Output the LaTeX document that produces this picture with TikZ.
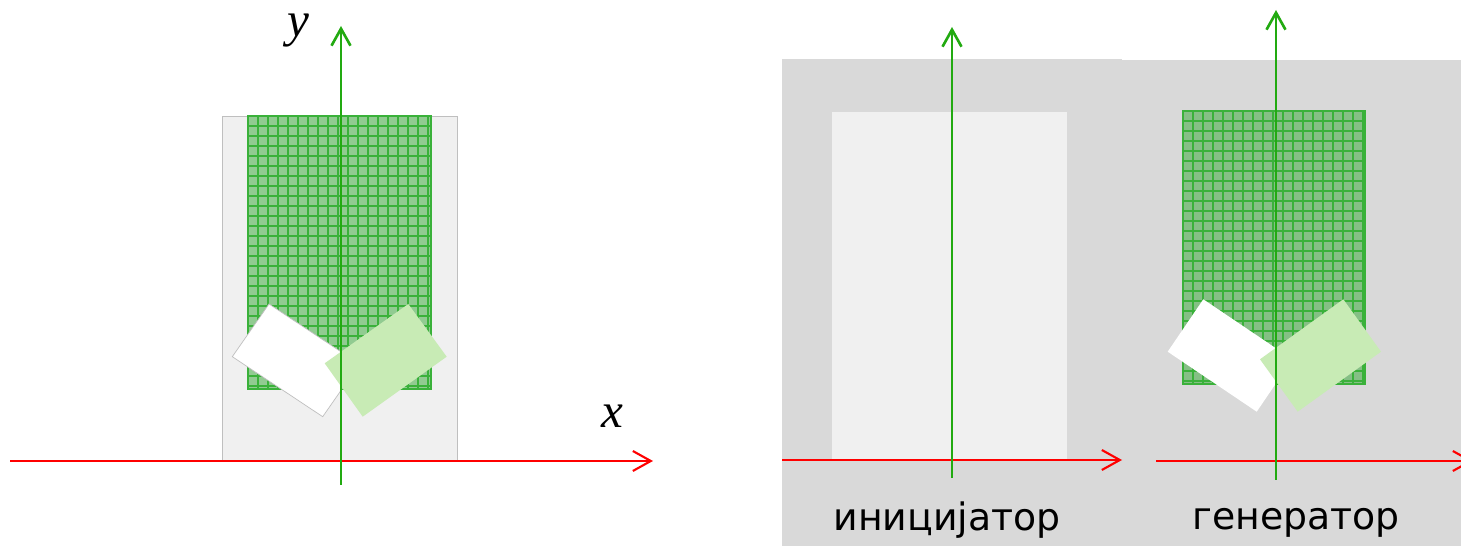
\documentclass[tikz,border=0pt]{standalone}
\usepackage{fontspec}
\setmainfont{Liberation Serif}
\newfontfamily\cyrfont{DejaVu Sans}
\usetikzlibrary{arrows.meta}
\definecolor{AxisRed}{HTML}{FF0000}
\definecolor{AxisGreen}{HTML}{22AA11}
\definecolor{PanelGray}{HTML}{D9D9D9}
\definecolor{SoftGray}{HTML}{F0F0F0}
\definecolor{EdgeGray}{HTML}{BFBFBF}
\definecolor{GridGreen}{HTML}{1FA01F}
\definecolor{GridLine}{HTML}{3AB13A}
\definecolor{LeafGreen}{HTML}{C8EBB5}

\begin{document}
\begin{tikzpicture}[x=0.02cm,y=-0.02cm,
    xaxis/.style={-{Straight Barb[length=0.36cm,width=0.4cm]},draw=AxisRed,line width=1.2pt},
    yaxis/.style={-{Straight Barb[length=0.34cm,width=0.38cm]},draw=AxisGreen,line width=1.5pt},
    gridbox/.style={fill=GridGreen,fill opacity=0.45,draw=GridLine,line width=0.8pt},
    gridline/.style={draw=GridLine,line width=0.6pt},
    leaf/.style={fill=LeafGreen},
    axislabel/.style={font=\fontsize{28}{30}\selectfont\itshape,anchor=base,inner sep=0pt},
    caption/.style={font=\cyrfont\fontsize{21.5}{25}\selectfont,anchor=base,inner sep=0pt}
]
\useasboundingbox (0,0) rectangle (1461,546);
\fill[PanelGray] (782,59) rectangle (1122,546);
\fill[PanelGray] (1122,60) rectangle (1461,546);

\draw[fill=SoftGray,draw=EdgeGray,line width=0.5pt] (222,116) rectangle (457,461);
\draw[gridbox] (248,116) rectangle (431,389);
\foreach \gx in {258,268,...,428} \draw[gridline] (\gx,116) -- (\gx,389);
\foreach \gy in {126,136,...,386} \draw[gridline] (248,\gy) -- (431,\gy);
\draw[fill=white,draw=EdgeGray,line width=0.4pt] (269,304) -- (359.4,364) -- (322.7,416.7) -- (232.3,356.7) -- cycle;
\fill[leaf] (408.3,304) -- (446.7,356.7) -- (362.7,416.7) -- (324.7,363.3) -- cycle;
\coordinate (ax0) at (10,461);
\coordinate (ax1) at (653,461);
\coordinate (ay0) at (341,485);
\coordinate (ay1) at (341,26);
\draw[xaxis] (ax0) -- (ax1);
\draw[yaxis] (ay0) -- (ay1);
\node[axislabel] (xlab) at (612,428) {x};
\node[axislabel] (ylab) at (298,37) {y};

\fill[SoftGray] (832,112) rectangle (1067,460);
\coordinate (bx0) at (782,460);
\coordinate (bx1) at (1122,460);
\coordinate (by0) at (952,478);
\coordinate (by1) at (952,27);
\draw[xaxis] (bx0) -- (bx1);
\draw[yaxis] (by0) -- (by1);
\node[caption] (init) at (947,531) {иницијатор};

\draw[gridbox] (1183,111) rectangle (1365,384);
\foreach \gx in {1193,1203,...,1363} \draw[gridline] (\gx,111) -- (\gx,384);
\foreach \gy in {121,131,...,381} \draw[gridline] (1183,\gy) -- (1365,\gy);
\fill[white] (1203.3,299.3) -- (1292.3,359.3) -- (1256.7,411.7) -- (1167.7,351.7) -- cycle;
\fill[leaf] (1343.3,299.3) -- (1381,351.7) -- (1297.7,411.7) -- (1260,359.3) -- cycle;
\coordinate (cx0) at (1156,461);
\coordinate (cx1) at (1473,461);
\coordinate (cy0) at (1276,480);
\coordinate (cy1) at (1276,10);
\draw[xaxis] (cx0) -- (cx1);
\draw[yaxis] (cy0) -- (cy1);
\node[caption] (gen) at (1296,530) {генератор};
\end{tikzpicture}
\end{document}
